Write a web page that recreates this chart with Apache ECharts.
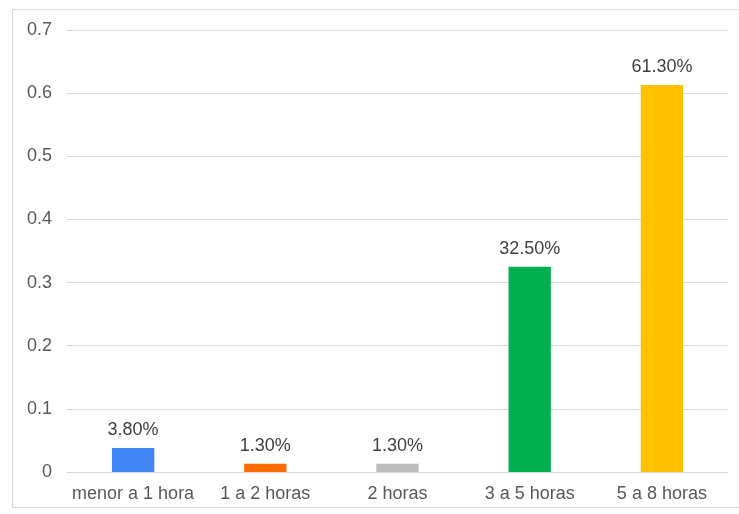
<!DOCTYPE html>
<html>
<head>
<meta charset="utf-8">
<script src="https://cdn.jsdelivr.net/npm/echarts@6/dist/echarts.min.js"></script>
<style>
  html, body { margin: 0; padding: 0; background: #fff; }
  #chart { width: 739px; height: 514px; }
</style>
</head>
<body>
<div id="chart"></div>
<script>
// Horas de uso por categoría (proporción de encuestados)
const categories = ['menor a 1 hora', '1 a 2 horas', '2 horas', '3 a 5 horas', '5 a 8 horas'];
const values = [0.038, 0.013, 0.013, 0.325, 0.613];
const barColors = ['#4285F4', '#FF6D01', '#BDBDBD', '#00B050', '#FFC000'];
const yTicks = [0, 0.1, 0.2, 0.3, 0.4, 0.5, 0.6, 0.7];

const chart = echarts.init(document.getElementById('chart'), null, { renderer: 'canvas' });
const textFont = 'Liberation Sans, Arial, sans-serif';

chart.setOption({
  animation: false,
  backgroundColor: '#ffffff',
  graphic: [{
    type: 'rect',
    shape: { x: 12.5, y: 9.5, width: 760, height: 498 },
    style: { fill: 'none', stroke: '#d9d9d9', lineWidth: 1 },
    silent: true
  }],
  grid: { left: 67, right: 11, top: 30, bottom: 42, containLabel: false },
  xAxis: {
    type: 'category',
    data: categories,
    axisTick: { show: false },
    axisLine: { show: true, lineStyle: { color: '#d9d9d9', width: 1 } },
    axisLabel: {
      interval: 0, color: '#595959', fontSize: 18, fontFamily: textFont, margin: 13
    }
  },
  yAxis: {
    type: 'value',
    min: yTicks[0],
    max: yTicks[yTicks.length - 1],
    interval: 0.1,
    axisLine: { show: false },
    axisTick: { show: false },
    splitLine: { lineStyle: { color: '#d9d9d9', width: 1 } },
    axisLabel: {
      color: '#595959', fontSize: 18, fontFamily: textFont, margin: 15,
      formatter: v => String(Math.round(v * 10) / 10)
    }
  },
  series: [{
    type: 'bar',
    barWidth: '32%',
    data: values.map((v, i) => ({ value: v, itemStyle: { color: barColors[i] } })),
    label: {
      show: true,
      position: 'top',
      distance: 9,
      color: '#404040',
      fontSize: 18,
      fontFamily: textFont,
      formatter: p => (p.value * 100).toFixed(2) + '%'
    }
  }]
});
</script>
</body>
</html>
